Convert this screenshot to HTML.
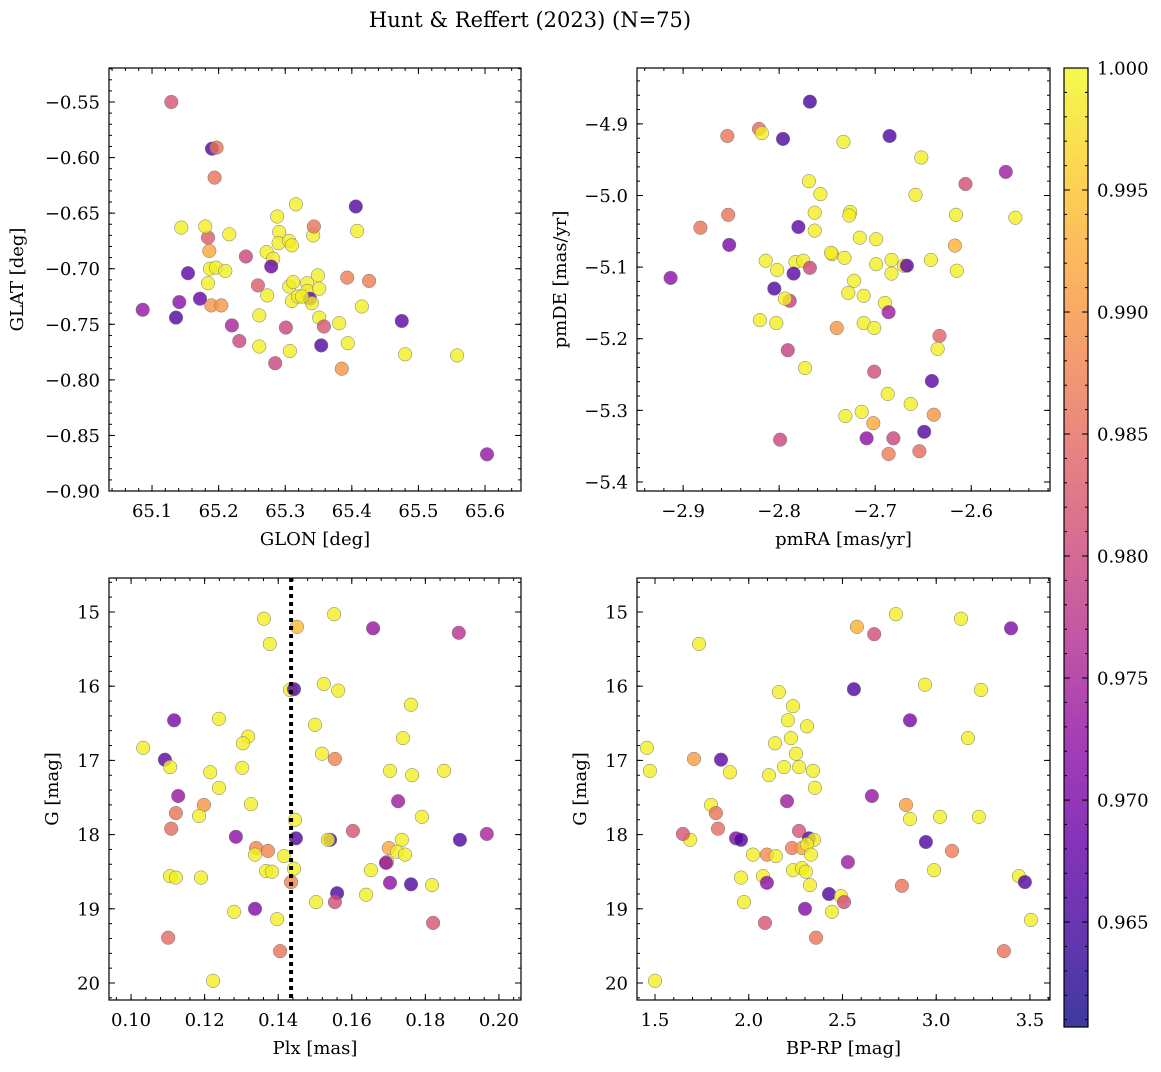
<!DOCTYPE html>
<html><head><meta charset="utf-8">
<style>
html,body{margin:0;padding:0;background:#fff;}
svg text{font-family:"DejaVu Serif","Liberation Serif",serif;fill:#000;}
</style></head>
<body>
<svg id="fig" width="1161" height="1067" viewBox="0 0 1161 1067" xmlns="http://www.w3.org/2000/svg">
<text x="530" y="27" font-size="21" text-anchor="middle">Hunt &amp; Reffert (2023) (N=75)</text>
</svg>
<script>
// ---- data ----
const glon=[65.129,65.190,65.197,65.194,65.144,65.184,65.180,65.216,65.154,65.186,65.187,65.196,65.210,65.184,65.189,65.204,65.141,65.172,65.086,65.136,65.220,65.231,65.241,65.259,65.261,65.272,65.273,65.282,65.279,65.288,65.291,65.290,65.316,65.306,65.310,65.261,65.285,65.301,65.307,65.306,65.312,65.310,65.319,65.333,65.333,65.337,65.340,65.325,65.342,65.343,65.349,65.351,65.351,65.354,65.358,65.381,65.393,65.394,65.385,65.406,65.408,65.426,65.415,65.475,65.480,65.558,65.603];
const glat=[-0.550,-0.592,-0.591,-0.618,-0.663,-0.672,-0.662,-0.669,-0.704,-0.684,-0.700,-0.699,-0.702,-0.713,-0.733,-0.733,-0.730,-0.727,-0.737,-0.744,-0.751,-0.765,-0.689,-0.715,-0.742,-0.685,-0.724,-0.691,-0.698,-0.653,-0.667,-0.677,-0.642,-0.675,-0.679,-0.770,-0.785,-0.753,-0.774,-0.716,-0.712,-0.729,-0.725,-0.713,-0.720,-0.727,-0.731,-0.725,-0.670,-0.662,-0.706,-0.718,-0.744,-0.769,-0.752,-0.749,-0.708,-0.767,-0.790,-0.644,-0.666,-0.711,-0.734,-0.747,-0.777,-0.778,-0.867];
const prob1=[0.982,0.966,0.986,0.986,0.999,0.983,0.999,0.999,0.967,0.992,0.999,0.999,0.999,0.999,0.990,0.990,0.972,0.968,0.973,0.966,0.975,0.980,0.980,0.983,0.999,0.999,0.999,0.999,0.968,0.999,0.999,0.999,0.999,0.999,0.999,0.999,0.980,0.980,0.999,0.999,0.999,0.999,0.999,0.999,0.999,0.968,0.999,0.999,0.999,0.986,0.999,0.999,0.999,0.966,0.982,0.999,0.987,0.999,0.990,0.966,0.999,0.987,0.999,0.967,0.999,0.999,0.973];

const pmra=[-2.768,-2.854,-2.821,-2.818,-2.796,-2.685,-2.733,-2.652,-2.564,-2.606,-2.769,-2.757,-2.658,-2.554,-2.616,-2.853,-2.882,-2.763,-2.726,-2.727,-2.780,-2.763,-2.852,-2.745,-2.716,-2.699,-2.617,-2.913,-2.814,-2.783,-2.746,-2.732,-2.775,-2.768,-2.802,-2.785,-2.699,-2.683,-2.670,-2.667,-2.642,-2.615,-2.722,-2.683,-2.805,-2.789,-2.794,-2.820,-2.803,-2.728,-2.712,-2.690,-2.686,-2.712,-2.701,-2.740,-2.633,-2.635,-2.791,-2.773,-2.701,-2.641,-2.687,-2.663,-2.639,-2.714,-2.731,-2.702,-2.649,-2.799,-2.709,-2.681,-2.686,-2.654];
const pmde=[-4.869,-4.917,-4.907,-4.913,-4.921,-4.917,-4.925,-4.947,-4.967,-4.984,-4.980,-4.998,-4.999,-5.031,-5.027,-5.027,-5.045,-5.024,-5.023,-5.028,-5.044,-5.049,-5.069,-5.082,-5.059,-5.061,-5.070,-5.115,-5.091,-5.093,-5.080,-5.087,-5.091,-5.101,-5.104,-5.109,-5.096,-5.090,-5.098,-5.098,-5.090,-5.105,-5.119,-5.109,-5.130,-5.147,-5.144,-5.174,-5.178,-5.136,-5.140,-5.150,-5.163,-5.178,-5.185,-5.185,-5.196,-5.214,-5.216,-5.241,-5.246,-5.259,-5.277,-5.291,-5.306,-5.302,-5.308,-5.318,-5.330,-5.341,-5.339,-5.339,-5.361,-5.357];
const prob2=[0.965,0.986,0.985,0.999,0.966,0.966,0.999,0.999,0.974,0.981,0.999,0.999,0.999,0.999,0.999,0.986,0.986,0.999,0.999,0.999,0.967,0.999,0.970,0.999,0.999,0.999,0.993,0.972,0.999,0.999,0.999,0.999,0.999,0.980,0.999,0.967,0.999,0.999,0.999,0.967,0.999,0.999,0.999,0.999,0.966,0.979,0.999,0.999,0.999,0.999,0.999,0.999,0.974,0.999,0.999,0.990,0.984,0.999,0.979,0.999,0.981,0.967,0.999,0.999,0.990,0.999,0.999,0.992,0.966,0.980,0.972,0.980,0.987,0.985];

const plx=[0.1361,0.1377,0.1451,0.1552,0.1658,0.1891,0.1432,0.1443,0.1524,0.1563,0.1761,0.1117,0.1239,0.1500,0.1033,0.1092,0.1106,0.1318,0.1304,0.1519,0.1554,0.1739,0.1302,0.1215,0.1239,0.1128,0.1704,0.1764,0.1851,0.1198,0.1326,0.1726,0.1185,0.1122,0.1791,0.1109,0.1446,0.1603,0.1285,0.1967,0.1448,0.1541,0.1535,0.1736,0.1894,0.1340,0.1372,0.1337,0.1701,0.1723,0.1745,0.1416,0.1696,0.1693,0.1367,0.1383,0.1443,0.1652,0.1106,0.1122,0.1190,0.1435,0.1704,0.1761,0.1818,0.1639,0.1560,0.1554,0.1503,0.1280,0.1337,0.1397,0.1821,0.1101,0.1405,0.1223];
const gmag3=[15.09,15.43,15.20,15.03,15.22,15.28,16.05,16.04,15.97,16.06,16.25,16.46,16.44,16.52,16.83,16.99,17.09,16.68,16.77,16.91,16.98,16.70,17.10,17.16,17.37,17.48,17.14,17.20,17.14,17.60,17.59,17.55,17.75,17.71,17.76,17.92,17.80,17.95,18.03,17.99,18.05,18.07,18.07,18.07,18.07,18.18,18.22,18.27,18.18,18.23,18.27,18.29,18.37,18.38,18.49,18.50,18.46,18.48,18.56,18.58,18.58,18.64,18.65,18.67,18.68,18.81,18.79,18.91,18.91,19.04,19.00,19.14,19.19,19.39,19.57,19.97];
const prob3=[0.999,0.999,0.994,0.999,0.973,0.977,0.999,0.966,0.999,0.999,0.999,0.970,0.999,0.999,0.999,0.967,0.999,0.999,0.999,0.999,0.988,0.999,0.999,0.999,0.999,0.973,0.999,0.999,0.999,0.990,0.999,0.974,0.999,0.986,0.999,0.985,0.999,0.982,0.972,0.975,0.966,0.966,0.999,0.999,0.966,0.988,0.988,0.999,0.992,0.999,0.999,0.999,0.996,0.972,0.999,0.999,0.999,0.999,0.999,0.999,0.999,0.988,0.972,0.966,0.999,0.999,0.966,0.981,0.999,0.999,0.971,0.999,0.982,0.985,0.986,0.999];
const plxLine=0.1435;

const bprp=[1.735,2.785,2.577,2.669,3.132,3.399,2.940,2.561,3.239,2.161,2.236,2.209,2.860,2.311,2.225,3.169,2.140,2.252,1.457,1.708,1.852,1.473,1.900,2.108,2.188,2.268,2.343,2.353,2.657,2.204,1.799,2.839,1.825,2.860,3.020,3.228,1.687,1.649,1.836,1.932,1.959,2.268,2.321,2.348,2.945,2.231,2.284,2.311,2.332,3.084,2.023,2.097,2.145,2.529,2.988,2.236,2.284,2.305,2.076,1.959,3.441,3.473,2.097,2.817,2.327,2.428,2.492,2.508,1.975,2.300,2.444,2.087,3.505,2.359,3.361,1.500];
const gmag4=[15.43,15.03,15.20,15.30,15.09,15.22,15.98,16.04,16.05,16.08,16.27,16.46,16.46,16.54,16.70,16.70,16.77,16.91,16.83,16.98,16.99,17.14,17.16,17.20,17.09,17.09,17.14,17.37,17.48,17.55,17.60,17.60,17.71,17.79,17.76,17.76,18.07,17.99,17.92,18.05,18.07,17.95,18.05,18.07,18.10,18.18,18.18,18.13,18.27,18.22,18.27,18.27,18.29,18.37,18.48,18.48,18.45,18.50,18.56,18.58,18.56,18.64,18.65,18.69,18.68,18.80,18.83,18.91,18.91,19.00,19.04,19.19,19.15,19.39,19.57,19.97];
const prob4=[0.999,0.999,0.993,0.981,0.999,0.971,0.999,0.966,0.999,0.999,0.999,0.999,0.970,0.999,0.999,0.999,0.999,0.999,0.999,0.991,0.967,0.999,0.999,0.999,0.999,0.999,0.999,0.999,0.973,0.974,0.999,0.991,0.986,0.999,0.999,0.999,0.999,0.982,0.985,0.971,0.966,0.982,0.966,0.999,0.966,0.987,0.992,0.999,0.999,0.987,0.999,0.989,0.999,0.974,0.999,0.999,0.999,0.999,0.999,0.999,0.999,0.966,0.972,0.986,0.999,0.966,0.999,0.981,0.999,0.971,0.999,0.982,0.999,0.986,0.986,0.999];

const cbTicks=[0.965,0.970,0.975,0.980,0.985,0.990,0.995,1.000];
const pMin=0.9607, pMax=1.0;

// ---- helpers ----
const NS="http://www.w3.org/2000/svg";
const svg=document.getElementById('fig');
function mk(tag,attrs,parent){const e=document.createElementNS(NS,tag);for(const k in attrs)e.setAttribute(k,attrs[k]);(parent||svg).appendChild(e);return e;}
const stops=[[13,8,135],[65,4,157],[106,0,168],[143,13,164],[177,42,144],[204,71,120],[225,100,98],[242,132,75],[252,166,54],[252,206,37],[240,249,33]];
function plasma(t){t=Math.max(0,Math.min(1,t));const f=t*10,i=Math.min(9,Math.floor(f)),r=f-i;const a=stops[i],b=stops[i+1];return 'rgb('+a.map((v,k)=>Math.round(v+(b[k]-v)*r)).join(',')+')';}
function fmt(v,d){const s=Math.abs(v).toFixed(d);return (v<-1e-9?'\u2212':'')+s;}
function range(a,b,s){const out=[];const n=Math.round((b-a)/s);for(let i=0;i<=n;i++)out.push(a+i*s);return out;}

function panel(c){
  const g=mk('g',{});
  
  
  const sx=v=>c.x0+(v-c.xmin)/(c.xmax-c.xmin)*(c.x1-c.x0);
  const sy=c.invertY?(v=>c.y0+(v-c.ymin)/(c.ymax-c.ymin)*(c.y1-c.y0)):(v=>c.y1-(v-c.ymin)/(c.ymax-c.ymin)*(c.y1-c.y0));
  const pg=mk('g',{},g);
  
  
  for(let i=0;i<c.xs.length;i++){
    const ci=mk('circle',{cx:sx(c.xs[i]).toFixed(1),cy:sy(c.ys[i]).toFixed(1),r:6.8,fill:plasma((c.ps[i]-pMin)/(pMax-pMin)),'fill-opacity':0.8,stroke:'#777','stroke-width':0.5},pg);
    
    
  }
  if(c.vline!==undefined){
    const l=mk('line',{x1:sx(c.vline),x2:sx(c.vline),y1:c.y0,y2:c.y1,stroke:'#000','stroke-width':4,'stroke-dasharray':'4 4'},g);
    
    
  }
  const fr=mk('rect',{x:c.x0,y:c.y0,width:c.x1-c.x0,height:c.y1-c.y0,fill:'none',stroke:'#000','stroke-width':1.2},g);
  
  
  const tg=mk('g',{stroke:'#000','stroke-width':1},g);
  for(const v of range(c.xMinorStart,c.xmax,c.xMinor)){if(v<c.xmin||v>c.xmax)continue;const x=sx(v);mk('line',{x1:x,x2:x,y1:c.y1,y2:c.y1-3},tg);mk('line',{x1:x,x2:x,y1:c.y0,y2:c.y0+3},tg);}
  for(const v of range(c.yMinorStart,c.ymax,c.yMinor)){if(v<c.ymin||v>c.ymax)continue;const y=sy(v);mk('line',{x1:c.x0,x2:c.x0+3,y1:y,y2:y},tg);mk('line',{x1:c.x1,x2:c.x1-3,y1:y,y2:y},tg);}
  for(const v of c.xMajor){const x=sx(v);mk('line',{x1:x,x2:x,y1:c.y1,y2:c.y1-6},tg);mk('line',{x1:x,x2:x,y1:c.y0,y2:c.y0+6},tg);
    const t=mk('text',{x:x,y:c.y1+26,'font-size':18,'text-anchor':'middle'},g);t.textContent=fmt(v,c.xd);
    }
  for(const v of c.yMajor){const y=sy(v);mk('line',{x1:c.x0,x2:c.x0+6,y1:y,y2:y},tg);mk('line',{x1:c.x1,x2:c.x1-6,y1:y,y2:y},tg);
    const t=mk('text',{x:c.x0-9,y:y+6.5,'font-size':18,'text-anchor':'end'},g);t.textContent=fmt(v,c.yd);
    }
  const xl=mk('text',{x:(c.x0+c.x1)/2,y:c.y1+54,'font-size':18,'text-anchor':'middle'},g);xl.textContent=c.xlabel;
  
  const yc=(c.y0+c.y1)/2;
  const yl=mk('text',{x:c.ylx,y:yc,'font-size':18,'text-anchor':'middle',transform:'rotate(-90 '+c.ylx+' '+yc+')'},g);yl.textContent=c.ylabel;
  
}

panel({name:'glon-glat-panel',x0:109,x1:521,y0:68,y1:491,xmin:65.0354,xmax:65.654,ymin:-0.9,ymax:-0.5194,
  xMajor:[65.1,65.2,65.3,65.4,65.5,65.6],xMinor:0.02,xMinorStart:65.04,xd:1,
  yMajor:[-0.9,-0.85,-0.8,-0.75,-0.7,-0.65,-0.6,-0.55],yMinor:0.01,yMinorStart:-0.9,yd:2,
  xs:glon,ys:glat,ps:prob1,xlabel:'GLON [deg]',ylabel:'GLAT [deg]',ylx:23});
panel({name:'proper-motion-panel',x0:637,x1:1050,y0:68,y1:491,xmin:-2.948,xmax:-2.518,ymin:-5.4126,ymax:-4.822,
  xMajor:[-2.9,-2.8,-2.7,-2.6],xMinor:0.02,xMinorStart:-2.94,xd:1,
  yMajor:[-5.4,-5.3,-5.2,-5.1,-5.0,-4.9],yMinor:0.02,yMinorStart:-5.4,yd:1,
  xs:pmra,ys:pmde,ps:prob2,xlabel:'pmRA [mas/yr]',ylabel:'pmDE [mas/yr]',ylx:566});
panel({name:'parallax-mag-panel',x0:109,x1:521,y0:578,y1:1000,xmin:0.094,xmax:0.206,ymin:14.542,ymax:20.229,invertY:true,
  xMajor:[0.10,0.12,0.14,0.16,0.18,0.20],xMinor:0.004,xMinorStart:0.096,xd:2,
  yMajor:[15,16,17,18,19,20],yMinor:0.2,yMinorStart:14.6,yd:0,
  xs:plx,ys:gmag3,ps:prob3,vline:plxLine,xlabel:'Plx [mas]',ylabel:'G [mag]',ylx:58});
panel({name:'color-mag-panel',x0:637,x1:1050,y0:578,y1:1000,xmin:1.404,xmax:3.607,ymin:14.542,ymax:20.229,invertY:true,
  xMajor:[1.5,2.0,2.5,3.0,3.5],xMinor:0.1,xMinorStart:1.5,xd:1,
  yMajor:[15,16,17,18,19,20],yMinor:0.2,yMinorStart:14.6,yd:0,
  xs:bprp,ys:gmag4,ps:prob4,xlabel:'BP-RP [mag]',ylabel:'G [mag]',ylx:586});

// colorbar
(function(){
  const x0=1064,x1=1088,y0=68,y1=1027;
  const defs=mk('defs',{});
  const lg=mk('linearGradient',{id:'cbg',x1:0,y1:1,x2:0,y2:0},defs);
  stops.forEach((s,i)=>mk('stop',{offset:(i/10),'stop-color':'rgb('+s.join(',')+')'},lg));
  const g=mk('g',{});
  
  
  mk('rect',{x:x0,y:y0,width:x1-x0,height:y1-y0,fill:'url(#cbg)','fill-opacity':0.8},g);
  mk('rect',{x:x0,y:y0,width:x1-x0,height:y1-y0,fill:'none',stroke:'#000','stroke-width':1.2},g);
  const sy=v=>y1-(v-pMin)/(pMax-pMin)*(y1-y0);
  for(const v of range(0.961,1.0,0.001)){const y=sy(v);mk('line',{x1:x1,x2:x1-3,y1:y,y2:y,stroke:'#000'},g);mk('line',{x1:x0,x2:x0+3,y1:y,y2:y,stroke:'#000'},g);}
  for(const v of cbTicks){const y=sy(v);mk('line',{x1:x1,x2:x1-6,y1:y,y2:y,stroke:'#000'},g);mk('line',{x1:x0,x2:x0+6,y1:y,y2:y,stroke:'#000'},g);
    const t=mk('text',{x:x1+9,y:y+6.5,'font-size':18},g);t.textContent=v.toFixed(3);
    }
})();
</script>
</body></html>
